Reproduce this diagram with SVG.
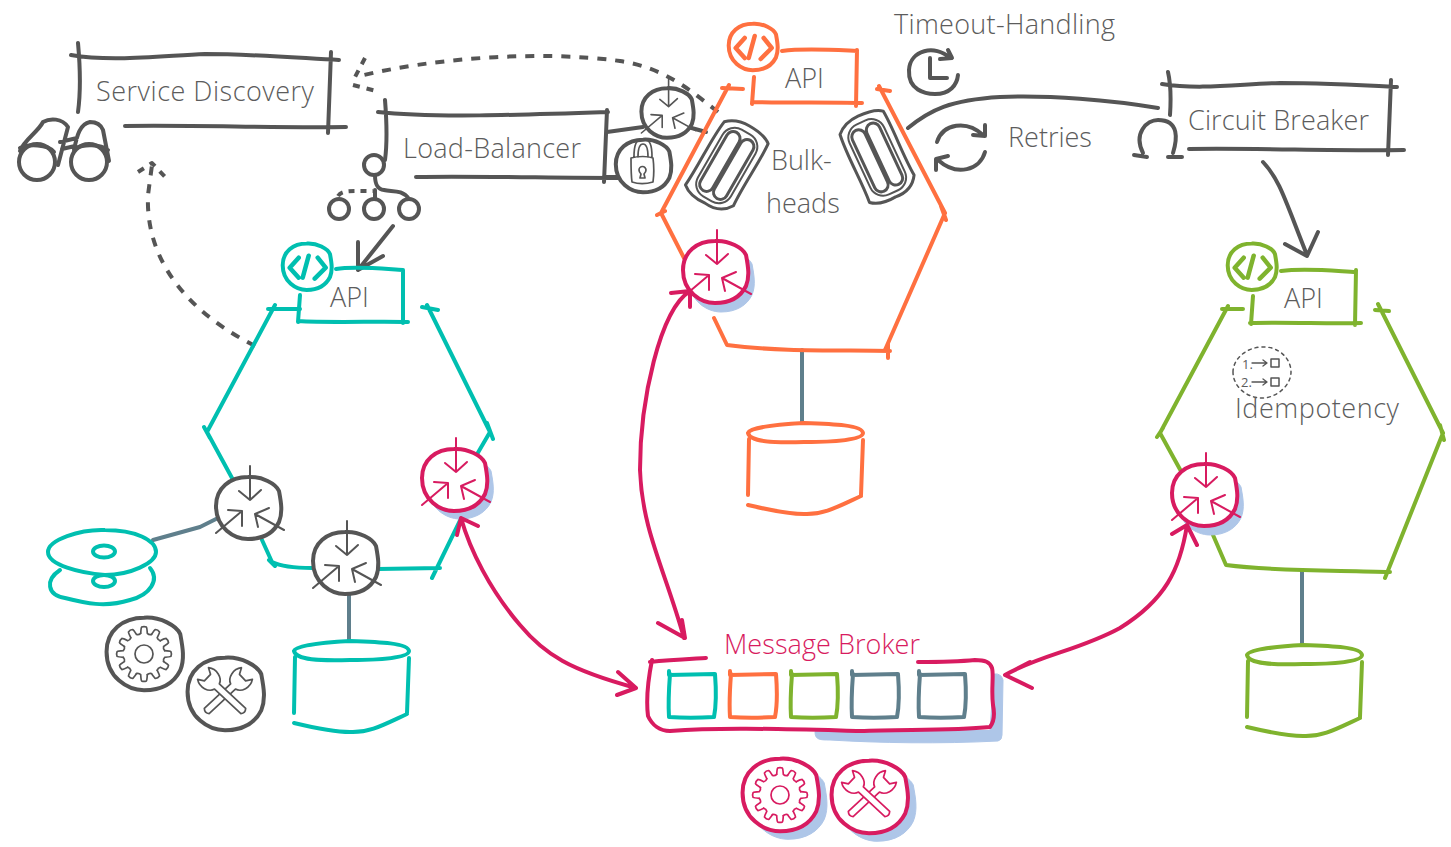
<svg xmlns="http://www.w3.org/2000/svg" width="1451" height="847" viewBox="0 0 1451 847">
<style>
svg{fill:none;stroke-linecap:round;stroke-linejoin:round}
text{font-family:"Open Sans","Noto Sans",sans-serif;font-weight:300;font-size:27px;fill:#5c5c5c;stroke:none}
.t{color:#00bfb0}.o{color:#ff7040}.g{color:#7fb32e}.p{color:#d81b60}.k{color:#555}.s{color:#5f7f8c}
.c{stroke:currentColor;stroke-width:4}
.h{stroke:#555;stroke-width:4}
.d{stroke:#555;stroke-width:4;stroke-dasharray:9 9;stroke-linecap:butt}
.e{stroke:#d81b60;stroke-width:4}
.thin{stroke:currentColor;stroke-width:2}
.fine{stroke:currentColor;stroke-width:1.7}
.i{stroke:#555;stroke-width:3}
.sh{fill:#aec6e8;stroke:#aec6e8;stroke-width:1}
.w{fill:#fff;stroke:currentColor;stroke-width:4}
#blob{vector-effect:non-scaling-stroke}
</style>
<defs>
<path id="blob" d="M-32,-2C-32,-20-18,-31 0,-31C14,-32 28,-24 31,-17C33,-6 35,4 31,14C26,24 16,31 0,31C-14,31-32,20-32,-2Z"/>
<g id="router">
<use href="#blob" class="w"/>
<path class="thin" d="M2,-42V-8M-9,-17L2,-8L13,-18M-32,25L-6,3M-20,2L-6,3L-6,18M36,22L7,6M21,0L7,6L10,19"/>
</g>
<g id="code">
<use href="#blob" class="w" transform="scale(.75)"/>
<path class="c" d="M-8,-9L-17,1L-8,11M11,-9L19,1L8,12M2,-11L-4,11" style="stroke-width:4.5"/>
</g>
<path id="tooth" d="M-3.3,-20.7Q-3,-26-2.4,-26.9Q0,-28 2.4,-26.9Q3,-26 3.3,-20.7Q5,-19 7.5,-19.6"/>
<g id="gear">
<use href="#blob" class="w" transform="scale(1.17)"/>
<g class="fine">
<use href="#tooth"/><use href="#tooth" transform="rotate(30)"/><use href="#tooth" transform="rotate(60)"/><use href="#tooth" transform="rotate(90)"/><use href="#tooth" transform="rotate(120)"/><use href="#tooth" transform="rotate(150)"/><use href="#tooth" transform="rotate(180)"/><use href="#tooth" transform="rotate(210)"/><use href="#tooth" transform="rotate(240)"/><use href="#tooth" transform="rotate(270)"/><use href="#tooth" transform="rotate(300)"/><use href="#tooth" transform="rotate(330)"/>
<circle r="9"/>
</g>
</g>
<path id="wrench" d="M-3.5,25Q0,28 3.5,25L3.5,-11C10,-13 13,-23 8,-30L4.5,-24L-4.5,-24L-8,-30C-13,-23-10,-13-3.5,-11Z"/>
<g id="tools">
<use href="#blob" class="w" transform="scale(1.17)"/>
<use href="#wrench" class="fine" transform="rotate(47)" style="fill:#fff"/>
<use href="#wrench" class="fine" transform="rotate(-47)" style="fill:#fff"/>
</g>
<g id="cyl">
<path class="c" d="M294,651C296,645 330,642 350,641C380,642 408,643 409,651C409,658 380,660 350,660C320,661 296,660 294,651ZM295,657L294,713M409,658L407,713M294,723C315,728 335,732 350,732C370,733 385,724 407,714"/>
</g>
<path id="q" d="M1,-1L1,3L47,2C48,15 48,35 46,45C30,46 15,46 1,45C0,30 1,15 2,2" class="c"/>
<g id="bulk">
<path class="i" d="M-24,-36C-17,-43-8,-45 0,-45C8,-45 19,-44 25,-39C27,-20 24,10 26,32C20,42 10,45 0,44C-10,45-20,43-26,38C-24,15-27,-15-24,-36Z"/>
<rect style="stroke:#555;stroke-width:2" x="-19" y="-38" width="38" height="77" rx="14"/>
<rect class="i" x="-15" y="-33" width="14" height="67" rx="7"/>
<rect class="i" x="1" y="-33" width="14" height="67" rx="7"/>
</g>
</defs>

<g id="connectors">
<path class="d" d="M718,112C690,90 665,68 620,61C540,50 430,58 356,77"/>
<path class="d" style="stroke-dasharray:7 7" d="M365,58L355,77M353,85L376,91"/>
<path class="d" d="M255,346C200,318 145,270 148,195L152,165"/>
<path class="d" style="stroke-dasharray:7 7" d="M138,172L152,163L168,180"/>
<path class="h" d="M393,226L358,270M358,242V270L383,256"/>
<path class="h" d="M1263,162C1280,180 1285,200 1307,255M1285,244L1307,256L1318,232"/>
<path class="h" d="M908,128C930,110 950,100 1000,97C1050,95 1110,100 1158,108"/>
<path class="h" d="M607,132L643,127M688,127L706,132M605,177H620"/>
<g class="s"><path class="c" d="M349,595V641M802,350V423M1302,570V645M153,540L200,527L218,518"/></g>
</g>

<g id="service-discovery">
<path class="h" d="M71,55C110,62 160,56 205,54C250,54 300,58 339,60M78,43C80,65 81,90 78,112M331,52L328,133M125,126C200,125 270,128 346,127"/>
<text x="96" y="101" textLength="218">Service Discovery</text>
<path class="h" d="M20,151C24,140 38,132 43,122C50,118 62,118 68,127L58,165M74,150C77,135 80,124 90,122C97,122 101,125 103,130L109,161M60,142L77,138M62,149L75,146M20,148C28,144 48,144 54,152M76,148C84,144 100,144 108,150"/>
<circle class="h" cx="37" cy="162" r="18"/><circle class="h" cx="89" cy="162" r="18"/>
</g>

<g id="load-balancer">
<path class="h" d="M378,112C430,118 520,115 608,112M385,100C387,125 387,145 385,160M607,110L604,182M416,177C480,176 550,178 620,178"/>
<text x="403" y="158" textLength="178">Load-Balancer</text>
<circle class="h" cx="374" cy="165" r="10"/><circle class="h" cx="339" cy="209" r="10"/><circle class="h" cx="374" cy="209" r="10"/><circle class="h" cx="409" cy="209" r="10"/>
<path class="h" d="M375,175C375,182 376,189 384,190C392,192 402,189 409,199M375,190V199"/>
<path class="h" style="stroke-dasharray:6 6;stroke-linecap:butt" d="M338,196C342,190 350,191 373,191"/>
</g>

<g id="lb-router" class="k"><use href="#router" transform="translate(667,113) scale(.8)"/></g>
<g id="lock" class="k">
<use href="#blob" class="w" transform="translate(643,166) scale(.85)"/>
<path class="fine" d="M634,157C634,145 636,139 643,139C650,139 652,145 652,157M631,158C638,156 648,156 653,158C654,166 654,175 653,182C646,184 638,184 632,182C631,175 631,166 631,158ZM638,157C638,150 639,144 643,144C647,144 648,150 648,157M639,170A3.5,3.5 0 1 1 646,170C646,172 645,173 644,174L645,178H640L641,174C640,173 639,172 639,170Z"/>
</g>

<g id="bulkheads">
<use href="#bulk" transform="translate(727,165) rotate(30)"/>
<use href="#bulk" transform="translate(877,157) rotate(-25)"/>
<text x="771" y="170">Bulk-</text>
<text x="766" y="213">heads</text>
</g>

<g id="timeout">
<text x="894" y="34" textLength="221">Timeout-Handling</text>
<path class="h" d="M950,58C935,44 910,50 909,70C908,90 925,94 935,94C950,94 957,85 958,75M948,50L952,58L940,59M930,58V78H947"/>
</g>

<g id="retries">
<text x="1008" y="147">Retries</text>
<path class="h" d="M937,142C943,123 967,120 983,135M985,125V136L973,135M985,152C980,170 957,177 938,160M936,170V159L948,156"/>
</g>

<g id="circuit-breaker">
<path class="h" d="M1162,84C1200,90 1240,84 1280,83C1320,83 1360,85 1397,87M1168,72C1171,85 1171,100 1170,115M1391,80L1388,155M1189,149C1260,148 1330,151 1404,150"/>
<text x="1188" y="130" textLength="181">Circuit Breaker</text>
<path class="h" d="M1143,153C1133,133 1147,120 1158,120C1180,120 1177,140 1173,153M1134,155L1147,157M1168,157H1182"/>
</g>

<g id="teal-service" class="t">
<path class="c" d="M300,309H268M275,305L207,432M207,432L232,478M262,540L272,562C280,566 295,568 312,568M378,569L440,568M432,578L470,500M476,456L490,432M490,432L427,305M422,307L438,310M204,427L210,438M487,423L493,439M269,560L275,566"/>
<path class="c" d="M336,269C355,266 385,269 403,270M403,270V323M298,321C330,323 380,321 408,322M300,295L298,322"/>
<text x="330" y="307">API</text>
<use href="#code" transform="translate(306.7,266.7)"/>
<path class="c" d="M60,570C45,580 47,595 65,598C85,603 105,608 130,600C150,595 160,580 150,568"/>
<ellipse class="c" cx="104" cy="581" rx="11" ry="6"/>
<path class="w" d="M48,552C48,540 80,529 105,530C135,530 156,540 156,552C156,563 130,575 105,575C80,573 48,565 48,552Z"/>
<ellipse class="c" cx="104" cy="551.5" rx="11" ry="6"/>
<use href="#cyl"/>
</g>
<g id="teal-router-1" class="k"><use href="#router" transform="translate(248,508)"/></g>
<g id="teal-router-2" class="k"><use href="#router" transform="translate(345,563)"/></g>
<g id="teal-gear" class="k"><use href="#gear" transform="translate(144,654)"/></g>
<g id="teal-tools" class="k"><use href="#tools" transform="translate(225,694)"/></g>
<g id="teal-broker-router" class="p">
<use href="#blob" class="sh" transform="translate(460,488)"/>
<use href="#router" transform="translate(454,480)"/>
</g>

<g id="orange-service" class="o">
<path class="c" d="M722,88L743,89M729,85L661,213M661,213L684,258M714,318L727,345C780,352 840,350 890,351M888,344V358M945,213L885,350M945,213L879,86M877,89L890,91M657,215L665,211M941,206L946,220"/>
<path class="c" d="M782,51C805,48 835,50 857,51M857,50L856,106M752,102C790,103 830,102 862,103M754,77L752,104"/>
<text x="785" y="88">API</text>
<use href="#code" transform="translate(752.7,47)"/>
<use href="#cyl" transform="translate(454,-218)"/>
</g>
<g id="orange-broker-router" class="p">
<use href="#blob" class="sh" transform="translate(721,281)"/>
<use href="#router" transform="translate(715,272)"/>
</g>

<g id="green-service" class="g">
<path class="c" d="M1222,309H1243M1228,306L1160,433M1160,433L1182,473M1213,535L1226,565C1280,572 1340,570 1390,572M1443,433L1385,578M1443,433L1378,304M1375,310L1389,311M1157,437L1163,428M1440,425L1444,440"/>
<path class="c" d="M1281,271C1305,268 1335,271 1356,272M1356,270L1355,325M1250,323C1290,322 1330,324 1361,323M1253,296L1251,324"/>
<text x="1284" y="308">API</text>
<use href="#code" transform="translate(1251.7,266.7)"/>
<use href="#cyl" transform="translate(953,4)"/>
</g>
<g id="idempotency">
<path style="stroke:#555;stroke-width:1.5;stroke-dasharray:3 4" d="M1233,372C1233,358 1248,347 1262,347C1278,346 1291,358 1291,372C1291,386 1276,398 1262,398C1246,398 1233,386 1233,372Z"/>
<text x="1242" y="369" style="font-size:13px;font-weight:400">1.</text>
<text x="1241" y="387" style="font-size:13px;font-weight:400">2.</text>
<path style="stroke:#555;stroke-width:1.3" d="M1252,363H1267M1263,360L1267,363L1263,366M1252,382H1267M1263,379L1267,382L1263,385"/>
<rect style="stroke:#555;stroke-width:1.5" x="1271" y="359" width="8" height="8"/>
<rect style="stroke:#555;stroke-width:1.5" x="1271" y="378" width="8" height="8"/>
<text x="1235" y="418" textLength="164">Idempotency</text>
</g>
<g id="green-broker-router" class="p">
<use href="#blob" class="sh" transform="translate(1210,504)"/>
<use href="#router" transform="translate(1204,495)"/>
</g>

<g id="message-broker" class="p">
<path class="sh" d="M815,732C815,740 820,740 830,740C880,743 940,744 998,741Q1002,740 1002,735L1003,680Q1001,673 994,674L990,730Z"/>
<path class="c" d="M706,658C690,659 670,660 650,662M652,660C648,680 646,700 648,716C652,725 660,731 670,731C720,727 780,729 860,731C900,729 950,731 990,727C994,722 995,715 993,705C991,690 994,675 992,668C990,662 985,660 975,660C955,662 935,662 918,662"/>
<text x="724" y="654" textLength="196" style="fill:#d81b60">Message Broker</text>
<use href="#q" class="t" transform="translate(668,672)"/>
<use href="#q" class="o" transform="translate(729,672)"/>
<use href="#q" class="g" transform="translate(790,672)"/>
<use href="#q" class="s" transform="translate(851,672)"/>
<use href="#q" class="s" transform="translate(918,672)"/>
</g>
<g id="broker-gear" class="p">
<use href="#blob" class="sh" transform="translate(788,803) scale(1.17)"/>
<use href="#gear" transform="translate(780,795)"/>
</g>
<g id="broker-tools" class="p">
<use href="#blob" class="sh" transform="translate(877,805) scale(1.17)"/>
<use href="#tools" transform="translate(869,797)"/>
</g>

<g id="broker-connectors">
<path class="e" d="M461,518C470,550 490,590 520,625C545,655 570,670 636,688M457,535L461,518L478,526M618,672L636,688L617,695"/>
<path class="e" d="M690,291C660,310 640,400 640,470C642,530 665,570 684,638M671,293L690,291L690,307M658,623L685,638L682,620"/>
<path class="e" d="M1187,525C1180,570 1165,600 1120,628C1080,650 1040,655 1005,675M1172,534L1187,525L1197,545M1030,662L1005,675L1032,688"/>
</g>
</svg>
